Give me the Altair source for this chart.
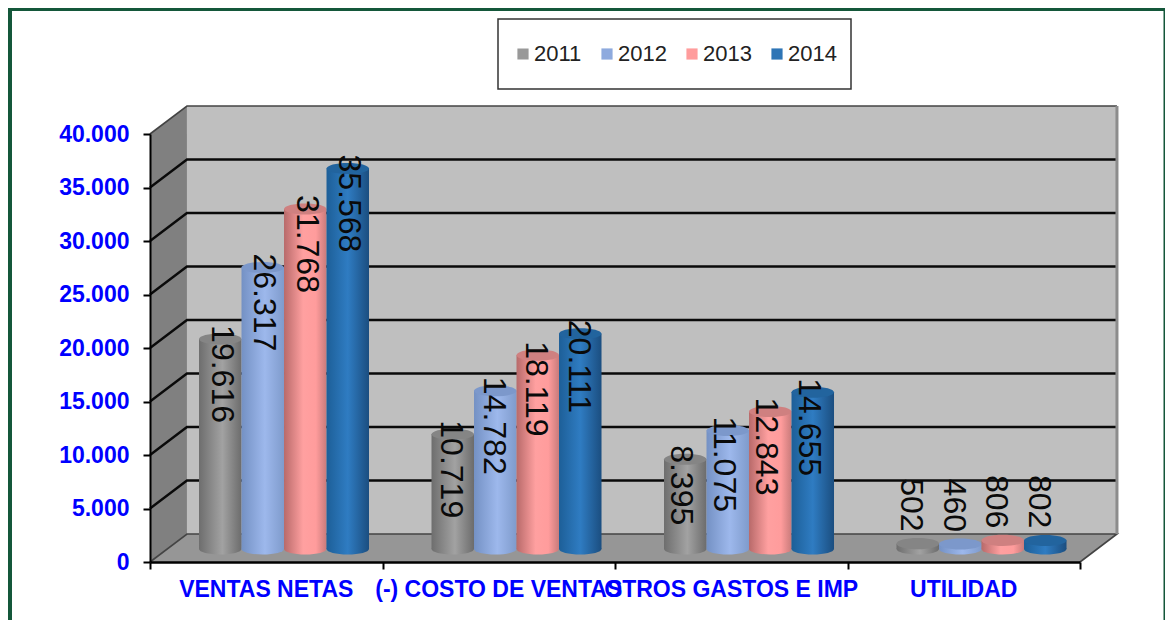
import altair as alt
import pandas as pd

categories = ["VENTAS NETAS", "(-) COSTO DE VENTAS", "OTROS GASTOS E IMP", "UTILIDAD"]
years = ["2011", "2012", "2013", "2014"]
v2011 = [19616, 10719, 8395, 502]
v2012 = [26317, 14782, 11075, 460]
v2013 = [31768, 18119, 12843, 806]
v2014 = [35568, 20111, 14655, 802]
series = [v2011, v2012, v2013, v2014]
legend_colors = ["#999999", "#8EAADE", "#FF9C9C", "#2E75B6"]
top_colors = ["#858585", "#7C98CB", "#CF8080", "#22649E"]
ticks = [0, 5000, 10000, 15000, 20000, 25000, 30000, 35000, 40000]

body_stops = [
    [("#6E6E6E", 0), ("#A2A2A2", 0.55), ("#6C6C6C", 1)],
    [("#7491C4", 0), ("#9DB8EC", 0.55), ("#7F9BCC", 1)],
    [("#B86A6A", 0), ("#FFA0A0", 0.45), ("#FF9C9C", 0.75), ("#C97B7B", 1)],
    [("#1D5F98", 0), ("#2F7CC2", 0.5), ("#1B4E80", 1)],
]

DX = 0.159       # depth of the 3D box, in category units
DY = 2617        # depth of the 3D box, in value units
BASE = 1215      # cylinders stand mid-floor
BAR_W = 0.1828
BAR_0 = 0.2108
LABEL_PITCH = 0.9885   # data labels drift slightly left from group to group
ELLIPSE = "M-1,0 A1,0.26 0 1,0 1,0 A1,0.26 0 1,0 -1,0 Z"
ELL_SIZE = 1806

X = alt.Scale(domain=[0, 4], range=[0, 930], nice=False, zero=False)
Y = alt.Scale(domain=[0, 40000], range=[428, 0], nice=False, zero=False)

AX_X = alt.Axis(
    values=[0, 1, 2, 3, 4], labels=False, title=None, grid=False, tickSize=7, tickWidth=2,
    tickColor="#000000", domainColor="#000000", domainWidth=2.5, zindex=1,
)
AX_Y = alt.Axis(
    values=ticks, title=None, grid=False, tickSize=7, tickWidth=2, tickColor="#000000",
    domainColor="#000000", domainWidth=2, labelColor="#0000FF", labelFont="Liberation Sans",
    labelFontWeight="bold", labelFontSize=23, labelPadding=14, zindex=1,
    labelExpr="replace(format(datum.value, ','), ',', '.')",
)


def xq(f):
    return alt.X(f, type="quantitative", scale=X, axis=AX_X)


def yq(f):
    return alt.Y(f, type="quantitative", scale=Y, axis=AX_Y)


def grad(stops):
    return alt.Gradient(
        gradient="linear", x1=0, x2=1, y1=0, y2=0,
        stops=[alt.GradientStop(color=c, offset=o) for c, o in stops],
    )


layers = []

# legend carrier, hidden underneath the walls
leg_df = pd.DataFrame({"year": years, "x": [0.5] * 4, "y": [1000] * 4})
layers.append(
    alt.Chart(leg_df).mark_square(size=20, opacity=1).encode(
        x=xq("x"),
        y=yq("y"),
        color=alt.Color(
            "year:N",
            scale=alt.Scale(domain=years, range=legend_colors),
            legend=alt.Legend(
                title=None, orient="none", legendX=348, legendY=-115,
                direction="horizontal", columns=4, symbolType="square",
                symbolSize=125, symbolOpacity=1, labelFontSize=22, labelFont="Liberation Sans",
                labelColor="#222222", columnPadding=14, padding=14, clipHeight=42,
                fillColor="#FFFFFF", strokeColor="#333333", labelOffset=0,
            ),
        ),
    )
)

# walls and floor
side = pd.DataFrame({"x": [0, DX], "y0": [0, DY], "y1": [40000, 40000 + DY]})
layers.append(
    alt.Chart(side).mark_area(orient="vertical", color="#808080", opacity=1).encode(
        x=xq("x"), y=yq("y0"), y2="y1:Q"
    )
)
back = pd.DataFrame({"x": [DX], "x2": [DX + 4], "y0": [DY], "y1": [40000 + DY]})
layers.append(
    alt.Chart(back).mark_rect(color="#BFBFBF").encode(x=xq("x"), x2="x2:Q", y=yq("y0"), y2="y1:Q")
)
floor = pd.DataFrame({"y": [0, DY], "x0": [0, DX], "x1": [4, 4 + DX]})
layers.append(
    alt.Chart(floor).mark_area(orient="horizontal", color="#969696", opacity=1).encode(
        y=yq("y"), x=xq("x0"), x2="x1:Q"
    )
)

# grid lines on back wall and side wall
rows = []
for t in ticks[1:-1]:
    rows += [{"t": t, "x": 0, "y": t}, {"t": t, "x": DX, "y": t + DY}, {"t": t, "x": DX + 4, "y": t + DY}]
layers.append(
    alt.Chart(pd.DataFrame(rows)).mark_line(color="#0A0A0A", strokeWidth=2.4).encode(
        x=xq("x"), y=yq("y"), detail="t:N"
    )
)
edge_rows = [
    {"t": "top", "x": 0, "y": 40000}, {"t": "top", "x": DX, "y": 40000 + DY},
    {"t": "top", "x": DX + 4, "y": 40000 + DY},
    {"t": "floorL", "x": 0, "y": 0}, {"t": "floorL", "x": DX, "y": DY},
    {"t": "floorL", "x": DX + 4, "y": DY}, {"t": "floorL", "x": 4, "y": 0},
]
layers.append(
    alt.Chart(pd.DataFrame(edge_rows)).mark_line(color="#444444", strokeWidth=1.6, order=False).encode(
        x=xq("x"), y=yq("y"), detail="t:N"
    )
)
right_edge = pd.DataFrame({"x": [DX + 4, DX + 4], "y": [DY, 40000 + DY]})
layers.append(
    alt.Chart(right_edge).mark_line(color="#8C8C8C", strokeWidth=3).encode(x=xq("x"), y=yq("y"))
)

# cylinders
for j, vals in enumerate(series):
    df = pd.DataFrame({
        "x0": [i + BAR_0 + BAR_W * j for i in range(4)],
        "x1": [i + BAR_0 + BAR_W * (j + 1) for i in range(4)],
        "xc": [i + BAR_0 + BAR_W * (j + 0.5) for i in range(4)],
        "top": [v + BASE for v in vals],
        "base": [BASE] * 4,
    })
    g = grad(body_stops[j])
    layers.append(
        alt.Chart(df).mark_point(shape=ELLIPSE, size=ELL_SIZE, filled=True, fill=g, opacity=1, strokeWidth=0)
        .encode(x=xq("xc"), y=yq("base"))
    )
    layers.append(
        alt.Chart(df).mark_rect(fill=g).encode(x=xq("x0"), x2="x1:Q", y=yq("base"), y2="top:Q")
    )
    layers.append(
        alt.Chart(df).mark_point(shape=ELLIPSE, size=ELL_SIZE, filled=True, fill=top_colors[j], opacity=1, strokeWidth=0)
        .encode(x=xq("xc"), y=yq("top"))
    )

# data labels, rotated
lab_rows = []
for j, vals in enumerate(series):
    for i, v in enumerate(vals):
        lab_rows.append({
            "xc": i * LABEL_PITCH + BAR_0 + BAR_W * (j + 0.5) + 0.006,
            "top": v + BASE,
            "txt": f"{v:,}".replace(",", "."),
            "big": v >= 1000,
        })
lab = pd.DataFrame(lab_rows)
for big, al, off in ((True, "left", -14), (False, "right", -12)):
    layers.append(
        alt.Chart(lab[lab.big == big]).mark_text(
            angle=90, align=al, baseline="middle", font="Liberation Sans", fontSize=32,
            color="#0A0A0A", dx=off,
        ).encode(x=xq("xc"), y=yq("top"), text="txt:N")
    )

# category labels
cat = pd.DataFrame({"c": categories, "x": [i + 0.5 for i in range(4)]})
layers.append(
    alt.Chart(cat).mark_text(
        font="Liberation Sans", fontWeight="bold", fontSize=23, color="#0000FF", baseline="middle"
    ).encode(x=xq("x"), y=alt.value(456), text="c:N")
)

# frame of the picture
frame_df = pd.DataFrame({"x": [0]})
frame_color = "#14573A"
layers.append(
    alt.Chart(frame_df).mark_rect(color=frame_color).encode(
        x=alt.value(-142), x2=alt.value(-138), y=alt.value(-126), y2=alt.value(486)
    )
)
layers.append(
    alt.Chart(frame_df).mark_rect(color=frame_color).encode(
        x=alt.value(-142), x2=alt.value(1015), y=alt.value(-126), y2=alt.value(-123)
    )
)
layers.append(
    alt.Chart(frame_df).mark_rect(color=frame_color).encode(
        x=alt.value(1013.5), x2=alt.value(1015), y=alt.value(-126), y2=alt.value(486)
    )
)

chart = (
    alt.layer(*layers)
    .properties(
        width=930, height=428, background="#FFFFFF",
        padding={"left": 142, "top": 126, "right": 85, "bottom": 58},
        autosize=alt.AutoSizeParams(type="none"),
    )
    .resolve_scale(x="shared", y="shared")
    .configure_view(stroke=None)
    .configure_legend(strokeWidth=1.5)
)

chart.save("out.html", embed_options={"renderer": "svg", "actions": False})
